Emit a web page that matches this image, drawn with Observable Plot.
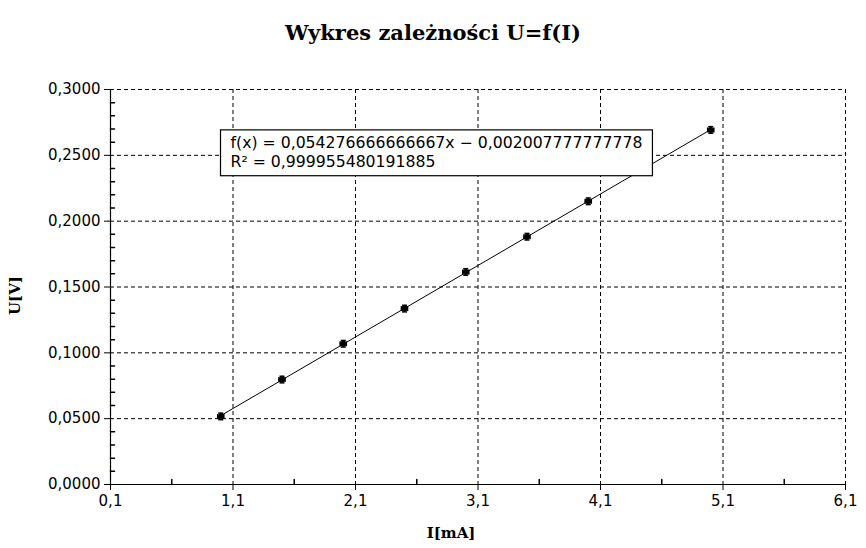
<!DOCTYPE html>
<html>
<head>
<meta charset="utf-8">
<script src="https://cdn.jsdelivr.net/npm/d3@7"></script>
<script src="https://cdn.jsdelivr.net/npm/@observablehq/plot@0.6"></script>
<style>
  html, body { margin: 0; padding: 0; background: white; }
  #title { height: 60px; box-sizing: border-box; padding-top: 20px; line-height: 1;
    font: bold 21px "DejaVu Serif"; text-align: center; color: black; width: 866px; }
</style>
</head>
<body>
<div id="title">Wykres zależności U=f(I)</div>
<div id="chart"></div>
<script>
// Data
const I = [1.0, 1.5, 2.0, 2.5, 3.0, 3.5, 4.0, 5.0];          // mA
const U = [0.0517, 0.0797, 0.1069, 0.1336, 0.1614, 0.1882, 0.2151, 0.2693]; // V
const errI = [0.025, 0.025, 0.025, 0.025, 0.025, 0.025, 0.025, 0.025];
const errU = [0.0025, 0.0025, 0.0025, 0.0025, 0.0025, 0.0025, 0.0025, 0.0025];

const xTicks = [0.1, 1.1, 2.1, 3.1, 4.1, 5.1, 6.1];
const xMinor = [0.6, 1.6, 2.6, 3.6, 4.6, 5.6];
const yTicks = [0, 0.05, 0.1, 0.15, 0.2, 0.25, 0.3];
const yMinor = [0.01, 0.02, 0.03, 0.04, 0.06, 0.07, 0.08, 0.09, 0.11, 0.12, 0.13, 0.14,
  0.16, 0.17, 0.18, 0.19, 0.21, 0.22, 0.23, 0.24, 0.26, 0.27, 0.28, 0.29];

const xLabel = "I[mA]";
const yLabel = "U[V]";
const eqLines = ["f(x) = 0,054276666666667x − 0,002007777777778", "R² = 0,999955480191885"];

const data = I.map((x, i) => ({I: x, U: U[i], eI: errI[i], eU: errU[i]}));

const fmtX = d => d.toFixed(1).replace(".", ",");
const fmtY = d => d.toFixed(4).replace(".", ",");

const hline = {draw(ctx, size) { const r = Math.sqrt(size / Math.PI); ctx.moveTo(-r, 0); ctx.lineTo(r, 0); }};
const vline = {draw(ctx, size) { const r = Math.sqrt(size / Math.PI); ctx.moveTo(0, -r); ctx.lineTo(0, r); }};
const stick = {draw(ctx, l) { ctx.moveTo(0, 0); ctx.lineTo(0, -l); }};

const plot = Plot.plot({
  width: 866,
  height: 488,
  marginLeft: 110,
  marginRight: 21,
  marginTop: 29,
  marginBottom: 64,
  style: {fontFamily: "DejaVu Sans", fontSize: "15px", background: "white", color: "black", overflow: "visible"},
  x: {domain: [0.1, 6.1]},
  y: {domain: [0, 0.3]},
  marks: [
    Plot.gridY(yTicks.slice(1), {stroke: "black", strokeOpacity: 1, strokeDasharray: "4,3"}),
    Plot.gridX(xTicks.slice(1), {stroke: "black", strokeOpacity: 1, strokeDasharray: "4,3"}),
    Plot.ruleX([xTicks[0]], {stroke: "black", strokeWidth: 1.2}),
    Plot.ruleY([yTicks[0]], {stroke: "black", strokeWidth: 1.2}),
    Plot.axisY(yTicks, {tickSize: 6, tickPadding: 4, tickFormat: fmtY, label: null}),
    Plot.axisX(xTicks, {tickSize: 6, tickPadding: 5, tickFormat: fmtX, label: null}),
    Plot.vector(yMinor, {y: d => d, frameAnchor: "left", length: 4, rotate: 90, anchor: "start", shape: stick, stroke: "black"}),
    Plot.vector(xMinor, {x: d => d, frameAnchor: "bottom", length: 5, rotate: 0, anchor: "start", shape: stick, stroke: "black"}),
    Plot.linearRegressionY(data, {x: "I", y: "U", ci: 0, stroke: "black", strokeWidth: 1}),
    Plot.ruleX(data, {x: "I", y1: d => d.U - d.eU, y2: d => d.U + d.eU, stroke: "black", strokeWidth: 1.5}),
    Plot.ruleY(data, {y: "U", x1: d => d.I - d.eI, x2: d => d.I + d.eI, stroke: "black", strokeWidth: 1.5}),
    Plot.dot(data, {x: "I", y: d => d.U - d.eU, symbol: hline, r: 2.5, stroke: "black", strokeWidth: 1.5}),
    Plot.dot(data, {x: "I", y: d => d.U + d.eU, symbol: hline, r: 2.5, stroke: "black", strokeWidth: 1.5}),
    Plot.dot(data, {x: d => d.I - d.eI, y: "U", symbol: vline, r: 2.5, stroke: "black", strokeWidth: 1.5}),
    Plot.dot(data, {x: d => d.I + d.eI, y: "U", symbol: vline, r: 2.5, stroke: "black", strokeWidth: 1.5}),
    Plot.dot(data, {x: "I", y: "U", r: 3, fill: "black"}),
    Plot.text([eqLines.join("\n")], {frameAnchor: "top-left", dx: 120, dy: 45, textAnchor: "start", lineAnchor: "top", lineHeight: 1.2, fontSize: 15.7, fill: "black"}),
    Plot.text([yLabel], {frameAnchor: "left", dx: -95, dy: 28, rotate: -90, fontFamily: "DejaVu Serif", fontWeight: "bold", fontSize: 15, fill: "black"}),
    Plot.text([xLabel], {frameAnchor: "bottom", dx: -27, dy: 53, fontFamily: "DejaVu Serif", fontWeight: "bold", fontSize: 15, fill: "black"})
  ]
});
document.getElementById("chart").appendChild(plot);

// box around the regression annotation
const texts = Array.from(plot.querySelectorAll("text")).filter(t => t.textContent.startsWith("f(x)"));
if (texts.length) {
  const t = texts[0];
  const g = t.parentNode;
  const b = t.getBBox();
  const rect = document.createElementNS("http://www.w3.org/2000/svg", "rect");
  rect.setAttribute("x", b.x - 10);
  rect.setAttribute("y", b.y - 3);
  rect.setAttribute("width", b.width + 20);
  rect.setAttribute("height", b.height + 8);
  rect.setAttribute("fill", "white");
  rect.setAttribute("stroke", "black");
  rect.setAttribute("stroke-width", 1.2);
  const tt = t.getAttribute("transform");
  if (tt) rect.setAttribute("transform", tt);
  g.insertBefore(rect, t);
}
</script>
</body>
</html>
